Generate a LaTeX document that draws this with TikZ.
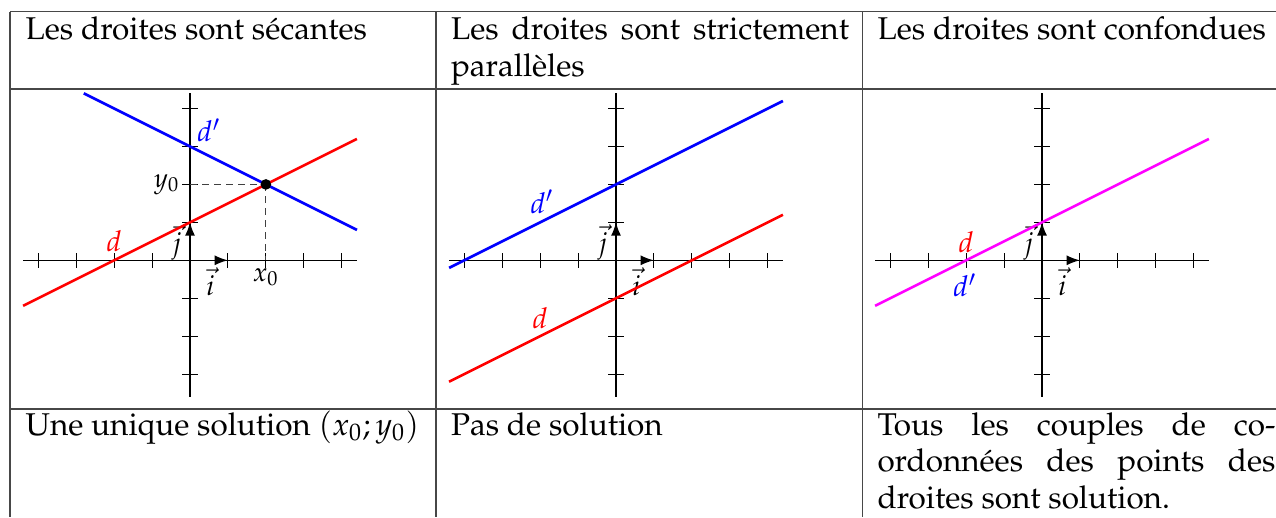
\documentclass[tikz,border=0pt]{standalone}
\usepackage[T1]{fontenc}
\usepackage{mathpazo}
\usetikzlibrary{arrows.meta}
\definecolor{mag}{RGB}{255,0,255}
\definecolor{rd}{RGB}{255,0,0}
\definecolor{bl}{RGB}{0,0,255}
\tikzset{
  rule/.style={line width=0.5pt, draw=black!72},
  axis/.style={line width=0.4pt, draw=black},
  vecarrow/.style={line width=0.6pt, -{Latex[length=5pt,width=3.8pt]}},
  cell/.style={anchor=base west, inner sep=0pt, text width=149.25pt, align=justify, font=\fontsize{11.8}{13.8}\selectfont},
  lab/.style={inner sep=0pt, font=\fontsize{10}{12}\selectfont},
  dlab/.style={inner sep=0pt, font=\fontsize{10.8}{12}\selectfont},
  vlab/.style={inner sep=0pt, font=\fontsize{10.5}{12}\selectfont},
  dline/.style={line width=1pt},
  guide/.style={dash pattern=on 2.6pt off 1.9pt, line width=0.45pt, draw=black!75},
}
\newcommand\drawrepere[1]{%
  \coordinate (#1O) at (0,0);
  \coordinate (#1xl) at (-4.4,0);
  \coordinate (#1xr) at (4.4,0);
  \coordinate (#1yb) at (0,-3.6);
  \coordinate (#1yt) at (0,4.4);
  \coordinate (#1I) at (1,0);
  \coordinate (#1J) at (0,1);
  \draw[axis] (#1xl) -- (#1xr);
  \draw[axis] (#1yb) -- (#1yt);
  \foreach \k in {-4,...,4} \draw[axis] (\k,-0.2) -- (\k,0.2);
  \foreach \k in {-3,...,4} \draw[axis] (-0.2,\k) -- (0.2,\k);
  \draw[vecarrow] (#1O) -- (#1I);
  \draw[vecarrow] (#1O) -- (#1J);
  \node[vlab] (#1vi) at (0.54,-0.56) {$\vec{i}$};
  \node[vlab] (#1vj) at (-0.35,0.47) {$\vec{j}$};
}
\begin{document}
\begin{tikzpicture}[x=0.375pt, y=-0.375pt]
\useasboundingbox (0,0) rectangle (1276,517);
% table rules
\draw[rule] (10,11.7) -- (1276,11.7);
\draw[rule] (10,89) -- (1276,89);
\draw[rule] (10,409) -- (1276,409);
\draw[rule] (10,11.7) -- (10,517);
\draw[rule] (436,11.7) -- (436,517);
\draw[rule] (862.5,11.7) -- (862.5,517);
% header texts
\node[cell] (h1) at (25,39.3) {Les droites sont s\'ecantes};
\node[cell] (h2) at (450.5,39.3) {Les droites sont strictement\linebreak parall\`eles};
\node[cell] (h3) at (877,39.3) {Les droites sont confondues};
% bottom texts
\node[cell] (b1) at (25,435) {Une unique solution $(x_0;y_0)$};
\node[cell] (b2) at (450.5,435) {Pas de solution};
\node[cell] (b3) at (877,435) {Tous les couples de co-\linebreak ordonn\'ees des points des\linebreak droites sont solution.};
% plot 1 : secantes
\begin{scope}[shift={(190,260.3)}, x=0.5cm, y=0.5cm]
  \drawrepere{a}
  \coordinate (aM) at (2,2);
  \coordinate (aY) at (0,2);
  \coordinate (aX) at (2,0);
  \draw[guide] (aY) -- (aM);
  \draw[guide] (aM) -- (aX);
  \coordinate (ad1) at (-4.4,-1.2);
  \coordinate (ad2) at (4.4,3.2);
  \coordinate (ae1) at (-2.8,4.4);
  \coordinate (ae2) at (4.4,0.8);
  \draw[dline, bl] (ae1) -- (ae2);
  \draw[dline, rd] (ad1) -- (ad2);
  \fill (aM) circle (2pt);
  \node[lab, anchor=east] (ay0) at (-0.26,2) {$y_0$};
  \node[lab, anchor=north] (ax0) at (2,-0.2) {$x_0$};
  \node[dlab, anchor=base west, text=bl] (adp) at (0.18,3.12) {$d'$};
  \node[dlab, anchor=base, text=rd] (ad) at (-2,0.22) {$d$};
\end{scope}
% plot 2 : paralleles
\begin{scope}[shift={(616,260.3)}, x=0.5cm, y=0.5cm]
  \drawrepere{b}
  \coordinate (be1) at (-4.4,-0.2);
  \coordinate (be2) at (4.4,4.2);
  \coordinate (bd1) at (-4.4,-3.2);
  \coordinate (bd2) at (4.4,1.2);
  \draw[dline, bl] (be1) -- (be2);
  \draw[dline, rd] (bd1) -- (bd2);
  \node[dlab, anchor=base west, text=bl] (bdp) at (-2.27,1.24) {$d'$};
  \node[dlab, anchor=base, text=rd] (bd) at (-2,-1.79) {$d$};
\end{scope}
% plot 3 : confondues
\begin{scope}[shift={(1042,260.3)}, x=0.5cm, y=0.5cm]
  \drawrepere{c}
  \coordinate (cd1) at (-4.4,-1.2);
  \coordinate (cd2) at (4.4,3.2);
  \draw[dline, mag] (cd1) -- (cd2);
  \node[dlab, anchor=base, text=rd] (cd) at (-2,0.2) {$d$};
  \node[dlab, anchor=north, text=bl] (cdp) at (-2.03,-0.34) {$d'$};
\end{scope}
\end{tikzpicture}
\end{document}
